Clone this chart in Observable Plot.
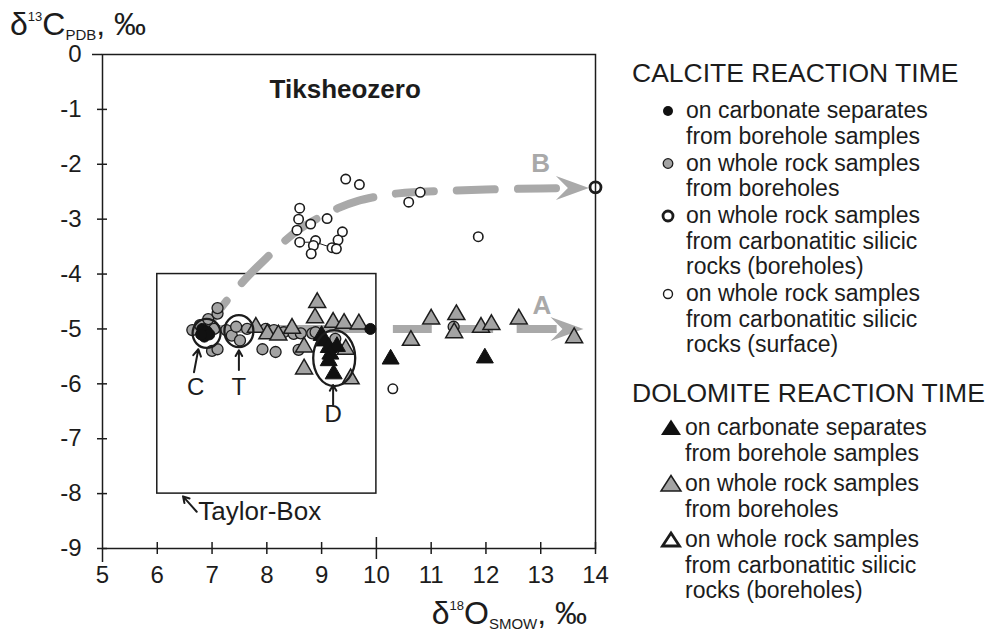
<!DOCTYPE html>
<html><head><meta charset="utf-8">
<script src="https://cdn.jsdelivr.net/npm/d3@7"></script>
<script src="https://cdn.jsdelivr.net/npm/@observablehq/plot@0.6"></script>
<style>
body{margin:0;background:#fff;}
#wrap{width:996px;height:631px;}
</style></head><body><div id="wrap"></div>
<script>
// ---------- data ----------
const xTicks = [5,6,7,8,9,10,11,12,13,14];
const yTicks = [0,-1,-2,-3,-4,-5,-6,-7,-8,-9];

const calciteSeparates = [[6.82,-5.0],[6.9,-5.04],[6.86,-5.14],[6.95,-5.1],[6.8,-5.1],[9.89,-5.0]];
const calciteWholeRock = [[6.64,-5.02],[6.78,-4.93],[6.93,-4.82],[7.1,-4.72],[7.1,-4.62],[7.04,-5.0],[7.0,-5.4],[7.1,-5.37],
  [7.26,-5.02],[7.36,-5.12],[7.44,-4.96],[7.51,-5.21],[7.64,-5.0],[7.98,-5.0],[8.13,-5.02],[7.92,-5.37],[8.16,-5.42],
  [8.31,-5.06],[8.49,-5.09],[8.62,-5.08],[8.83,-5.08],[8.89,-5.06],[8.58,-5.38],[9.25,-5.18],[11.41,-4.96]];
const calciteCarbBorehole = [[14,-2.42]];
const calciteCarbSurface = [[9.44,-2.27],[9.69,-2.37],[10.8,-2.51],[10.59,-2.69],[11.86,-3.32],[9.1,-2.99],[8.8,-3.09],
  [8.6,-2.8],[8.58,-3.0],[9.38,-3.23],[9.3,-3.38],[8.89,-3.39],[8.85,-3.48],[8.81,-3.63],[9.19,-3.52],[9.27,-3.54],
  [8.6,-3.42],[8.55,-3.2],[10.3,-6.09]];
const tieLine = [[8.6,-3.42],[8.89,-3.42],[9.19,-3.52],[9.27,-3.54]];
const dolomiteSeparates = [[9.0,-5.12],[9.04,-5.22],[9.13,-5.34],[9.28,-5.32],[9.16,-5.46],[9.13,-5.58],[9.22,-5.82],[10.26,-5.55],[11.98,-5.53]];
const dolomiteWholeRock = [[7.8,-4.97],[8.01,-5.09],[8.21,-5.11],[8.46,-4.99],[8.68,-5.33],[8.68,-5.73],[8.92,-4.52],[8.88,-4.8],
  [9.21,-4.88],[9.41,-4.9],[9.68,-4.91],[9.44,-5.37],[9.53,-5.91],[11.0,-4.82],[10.63,-5.21],[11.46,-4.74],[11.42,-5.07],
  [11.91,-4.97],[12.1,-4.92],[12.6,-4.82],[13.61,-5.16]];

const trendAY = -5.0;
const trendADashes = [[6.95,9.85],[10.31,11.02],[11.35,12.14],[12.57,13.3]];
const trendB = [[6.92,-4.95],[7.2,-4.57],[7.6,-4.1],[8.0,-3.7],[8.3,-3.42],[8.6,-3.18],[8.9,-3.0],[9.3,-2.8],[9.65,-2.67],
  [10.0,-2.59],[10.4,-2.53],[11.1,-2.49],[12.0,-2.46],[13.0,-2.44],[13.6,-2.43]];
const trendTips = [{name:"A", x:13.78, y:-5.0}, {name:"B", x:13.88, y:-2.43}];
const trendLabels = [{name:"A", x:13.02, y:-4.58}, {name:"B", x:13.0, y:-1.98}];

const taylorBox = [{x1:6, x2:10, y1:-8, y2:-4}];
const groups = [{name:"C", x:6.9, y:-5.08}, {name:"T", x:7.49, y:-5.04}, {name:"D", x:9.23, y:-5.53}];
const groupLabels = [{name:"C", x:6.7, y:-6.06}, {name:"T", x:7.49, y:-6.06}, {name:"D", x:9.21, y:-6.56}];
const pointers = [{x1:6.67,y1:-5.79,x2:6.75,y2:-5.37},{x1:7.49,y1:-5.75,x2:7.49,y2:-5.39},
  {x1:9.21,y1:-6.38,x2:9.21,y2:-6.02},{x1:6.72,y1:-8.33,x2:6.47,y2:-8.05}];
const boxLabel = [{name:"Taylor-Box", x:6.75, y:-8.33}];
const chartTitle = [{name:"Tiksheozero", x:8.05, y:-0.64}];

const legendCalcite = [
  {sym:"black", lines:["on carbonate separates","from borehole samples"]},
  {sym:"gray", lines:["on whole rock samples","from boreholes"]},
  {sym:"ring", lines:["on whole rock samples","from carbonatitic silicic","rocks (boreholes)"]},
  {sym:"open", lines:["on whole rock samples","from carbonatitic silicic","rocks (surface)"]}
];
const legendDolomite = [
  {sym:"tblack", lines:["on carbonate separates","from borehole samples"]},
  {sym:"tgray", lines:["on whole rock samples","from boreholes"]},
  {sym:"topen", lines:["on whole rock samples","from carbonatitic silicic","rocks (boreholes)"]}
];

// ---------- styles ----------
const INK = "#1c1c1c", GREY = "#a3a3a3", TREND = "#a9a9a9";
const FONT = '"Liberation Sans", Arial, sans-serif';
const ellipseR = {C:[14,14.5], T:[14.5,16], D:[21,28]};

function ellipseSymbol(rx, ry){
  const k = 0.5523;
  return {draw(c){
    c.moveTo(rx,0);
    c.bezierCurveTo(rx, ry*k, rx*k, ry, 0, ry);
    c.bezierCurveTo(-rx*k, ry, -rx, ry*k, -rx, 0);
    c.bezierCurveTo(-rx, -ry*k, -rx*k, -ry, 0, -ry);
    c.bezierCurveTo(rx*k, -ry, rx, -ry*k, rx, 0);
    c.closePath();
  }};
}
const arrowHead = {draw(c){ c.moveTo(0,0); c.lineTo(-33,-12); c.lineTo(-21,0); c.lineTo(-33,12); c.closePath(); }};

const fmtY = d => d < 0 ? "-" + Math.abs(d) : String(d);
const px = d => d[0], py = d => d[1];

const plot = Plot.plot({
  width: 996, height: 631,
  marginLeft: 102, marginRight: 401, marginTop: 54, marginBottom: 83,
  x: {domain: [5, 14]},
  y: {domain: [-9, 0]},
  style: {fontFamily: FONT, fontSize: "24px", color: INK, background: "white", overflow: "visible"},
  marks: [
    Plot.rect(taylorBox, {x1:"x1", x2:"x2", y1:"y1", y2:"y2", fill:"none", stroke:INK, strokeWidth:1.5}),
    Plot.ruleY(trendADashes, {x1: d => d[0], x2: d => d[1], y: trendAY, stroke: TREND, strokeWidth: 8}),
    Plot.line(trendB, {x: px, y: py, curve: "natural", stroke: TREND, strokeWidth: 8, strokeDasharray: "38,23", strokeDashoffset: 6}),
    Plot.dot(trendTips, {x:"x", y:"y", symbol: arrowHead, fill: TREND, stroke: "none"}),
    Plot.text(trendLabels, {x:"x", y:"y", text:"name", fill: TREND, fontWeight: "bold", fontSize: 26}),
    Plot.line(tieLine, {x: px, y: py, stroke: INK, strokeWidth: 1}),
    Plot.dot(calciteWholeRock, {x: px, y: py, r: 5.5, fill: GREY, stroke: INK, strokeWidth: 1.3}),
    Plot.dot(dolomiteWholeRock, {x: px, y: py, r: 6.3, symbol: "triangle", fill: GREY, stroke: INK, strokeWidth: 1.5}),
    Plot.dot(calciteSeparates, {x: px, y: py, r: 5.5, fill: "#111", stroke: "#111", strokeWidth: 1}),
    Plot.dot(dolomiteSeparates, {x: px, y: py, r: 6.3, symbol: "triangle", fill: "#111", stroke: "#111", strokeWidth: 1}),
    Plot.dot(calciteCarbSurface, {x: px, y: py, r: 4.7, fill: "white", stroke: INK, strokeWidth: 1.6}),
    Plot.dot(calciteCarbBorehole, {x: px, y: py, r: 5.5, fill: "white", stroke: INK, strokeWidth: 2.8}),
    ...groups.map(g => Plot.dot([g], {x:"x", y:"y", symbol: ellipseSymbol(...ellipseR[g.name]), fill:"none", stroke: INK, strokeWidth: 2.3})),
    Plot.arrow(pointers, {x1:"x1", y1:"y1", x2:"x2", y2:"y2", stroke: INK, strokeWidth: 2, headLength: 8}),
    Plot.text(groupLabels, {x:"x", y:"y", text:"name", fill: INK, fontSize: 24}),
    Plot.text(boxLabel, {x:"x", y:"y", text:"name", fill: INK, fontSize: 26, textAnchor:"start"}),
    Plot.text(chartTitle, {x:"x", y:"y", text:"name", fill: INK, fontSize: 26, fontWeight:"bold", textAnchor:"start"}),
    Plot.frame({stroke: INK, strokeWidth: 1.5}),
    Plot.axisX({ticks: xTicks, tickSize: 0, tickPadding: 17, label: null, fontSize: 24, tickFormat: d => String(d)}),
    Plot.axisY({ticks: yTicks, tickSize: 0, tickPadding: 21, label: null, fontSize: 24, tickFormat: fmtY}),
    Plot.ruleX(xTicks.filter(d => d !== 5 && d !== 10), {x: d => d, y1: -9, y2: -9, insetTop: 6, insetBottom: 6, stroke: INK, strokeWidth: 1.5}),
    Plot.ruleX([10], {x: d => d, y1: -9, y2: -9, insetTop: 11, insetBottom: 11, stroke: INK, strokeWidth: 1.5}),
    Plot.ruleX([5], {x: d => d, y1: -9, y2: -9, insetTop: 14, insetBottom: 0, stroke: INK, strokeWidth: 1.5}),
    Plot.ruleY(yTicks.filter(d => d !== 0), {y: d => d, x1: 5, x2: 5, insetLeft: 5, insetRight: 5, stroke: INK, strokeWidth: 1.5}),
    Plot.ruleY([0], {y: d => d, x1: 5, x2: 5, insetLeft: 0, insetRight: 10, stroke: INK, strokeWidth: 1.5})
  ]
});
document.getElementById("wrap").appendChild(plot);

// ---------- axis titles and legend (inside the same SVG) ----------
const svg = d3.select(plot);
const g = svg.append("g").attr("font-family", FONT).attr("fill", INK).attr("text-anchor", "start");

function isoTitle(x, y, anchor, base, sup, main, sub){
  const t = g.append("text").attr("x", x).attr("y", y).attr("font-size", 32).attr("text-anchor", anchor);
  t.append("tspan").text(base);
  t.append("tspan").attr("font-size", 13).attr("dy", -14).text(sup);
  t.append("tspan").attr("dy", 14).text(main);
  t.append("tspan").attr("font-size", 15).attr("dy", 5).text(sub);
  t.append("tspan").attr("dy", -5).text(", \u2030");
}
isoTitle(10, 35, "start", "\u03b4", "13", "C", "PDB");
isoTitle(587, 624, "end", "\u03b4", "18", "O", "SMOW");

function legendSymbol(sym, cx, cy){
  if (sym === "black") g.append("circle").attr("cx",cx).attr("cy",cy).attr("r",5).attr("fill","#111");
  if (sym === "gray") g.append("circle").attr("cx",cx).attr("cy",cy).attr("r",4.8).attr("fill",GREY).attr("stroke",INK).attr("stroke-width",1.3);
  if (sym === "ring") g.append("circle").attr("cx",cx).attr("cy",cy).attr("r",5).attr("fill","white").attr("stroke",INK).attr("stroke-width",2.8);
  if (sym === "open") g.append("circle").attr("cx",cx).attr("cy",cy).attr("r",4.5).attr("fill","white").attr("stroke",INK).attr("stroke-width",1.4);
  const tri = `M${cx},${cy-8.5}L${cx+10},${cy+7}L${cx-10},${cy+7}Z`;
  if (sym === "tblack") g.append("path").attr("d",tri).attr("fill","#111");
  if (sym === "tgray") g.append("path").attr("d",tri).attr("fill",GREY).attr("stroke",INK).attr("stroke-width",1.5);
  if (sym === "topen") g.append("path").attr("d",`M${cx},${cy-7}L${cx+8.5},${cy+6}L${cx-8.5},${cy+6}Z`).attr("fill","white").attr("stroke",INK).attr("stroke-width",2.8);
}
function legendBlock(header, items, headerY, firstY, symX, textX, itemGaps){
  g.append("text").attr("x", 632).attr("y", headerY).attr("dy","0.35em").attr("font-size", 26.5).text(header);
  let y = firstY;
  items.forEach((it) => {
    legendSymbol(it.sym, symX, y + 1);
    it.lines.forEach((ln, j) => {
      g.append("text").attr("x", textX).attr("y", y + j*25.5).attr("dy","0.35em").attr("font-size", 23).text(ln);
    });
    y += it.lines.length*25.5 + itemGaps;
  });
}
legendBlock("CALCITE REACTION TIME", legendCalcite, 73, 110, 668, 686, 1.5);
legendBlock("DOLOMITE REACTION TIME", legendDolomite, 393, 427, 671, 685, 5);
</script>
</body></html>
